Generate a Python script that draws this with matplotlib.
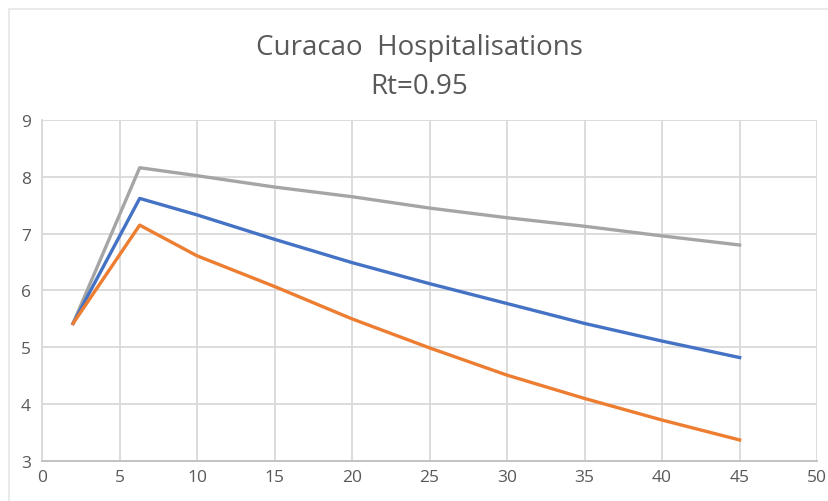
import matplotlib.pyplot as plt
from matplotlib.patches import Rectangle

plt.rcParams['font.family'] = ['Open Sans', 'DejaVu Sans']

days = [2, 6.3, 10, 15, 20, 25, 30, 35, 40, 45]
high = [5.42, 8.16, 8.02, 7.82, 7.65, 7.45, 7.28, 7.13, 6.96, 6.80]
mid = [5.42, 7.62, 7.33, 6.90, 6.49, 6.12, 5.77, 5.42, 5.11, 4.82]
low = [5.42, 7.15, 6.61, 6.07, 5.50, 4.99, 4.51, 4.10, 3.72, 3.37]

text_col = '#595959'
grid_col = '#d9d9d9'

fig = plt.figure(figsize=(8.29, 5.02), dpi=100)
fig.patches.append(Rectangle((9 / 829, -0.1), 1.1, 1 - 10 / 502 + 0.1,
                             transform=fig.transFigure, fill=False,
                             edgecolor='#e6e6e6', linewidth=1.2))

ax = fig.add_axes([0.0507, 0.0797, 0.935, 0.6793])
ax.plot(days, high, color='#a5a5a5', linewidth=2.4, solid_joinstyle='round')
ax.plot(days, mid, color='#4472c4', linewidth=2.4, solid_joinstyle='round')
ax.plot(days, low, color='#ed7d31', linewidth=2.4, solid_joinstyle='round')

ax.set_xlim(0, 50)
ax.set_ylim(3, 9)
ax.set_xticks(range(0, 51, 5))
ax.set_yticks(range(3, 10))
ax.grid(True, color=grid_col, linewidth=1.3)
ax.set_axisbelow(True)
for s in ['top', 'right']:
    ax.spines[s].set_visible(False)
ax.spines['left'].set_color(grid_col)
ax.spines['left'].set_linewidth(1.3)
ax.spines['bottom'].set_color('#bfbfbf')
ax.spines['bottom'].set_linewidth(1.3)
ax.tick_params(length=0, labelsize=12.5, labelcolor=text_col)
ax.tick_params(axis='x', pad=6)
ax.tick_params(axis='y', pad=8)

fig.text(419 / 829, 1 - 48 / 502, 'Curacao  Hospitalisations', ha='center',
         va='center', fontsize=20, color=text_col)
fig.text(419 / 829, 1 - 87 / 502, 'Rt=0.95', ha='center', va='center',
         fontsize=20, color=text_col)

fig.savefig('out.png', dpi=100)
